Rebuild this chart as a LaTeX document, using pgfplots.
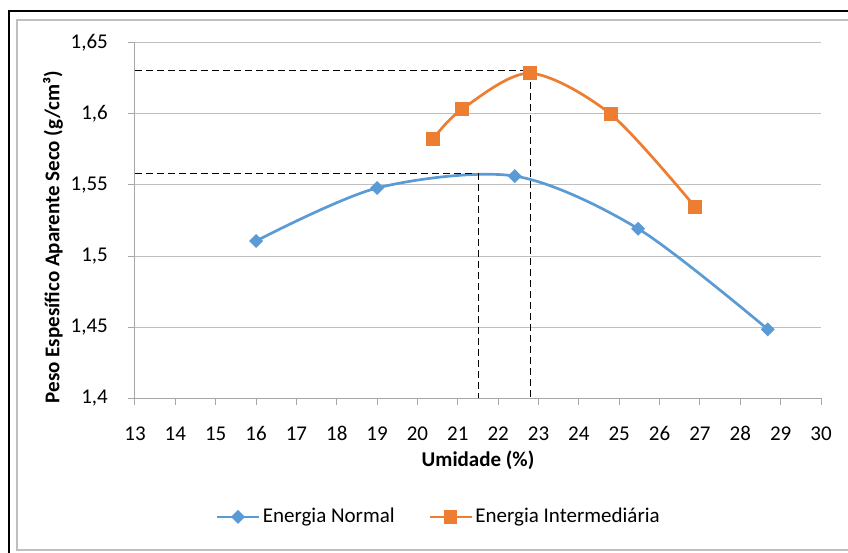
\documentclass[border=0pt]{standalone}
\usepackage{fontspec}
\setmainfont{Carlito}
\usepackage{pgfplots}
\pgfplotsset{compat=1.18}
\definecolor{cblue}{HTML}{5B9BD5}
\definecolor{corange}{HTML}{ED7D31}
\definecolor{cgrid}{HTML}{BFBFBF}
\definecolor{caxis}{HTML}{A6A6A6}
\begin{document}
\fontsize{21bp}{24bp}\selectfont
\begin{tikzpicture}
\useasboundingbox (-135bp,-155bp) rectangle (713bp,398bp);
% frames
\draw[black, line width=2bp] (-125.5bp,-156bp) -- (-125.5bp,387bp) -- (714bp,387bp);
\draw[cgrid, line width=1.5bp] (714bp,378bp) -- (-118bp,378bp) -- (-118bp,-152bp) -- (714bp,-152bp);
\begin{axis}[
  scale only axis,
  width=686bp, height=355bp,
  xmin=13, xmax=30, ymin=1.4, ymax=1.65,
  xtick={13,14,...,30},
  ytick={1.4,1.45,1.5,1.55,1.6,1.65},
  axis lines=left,
  axis line style={-, caxis, line width=1bp},
  tick align=outside,
  major tick length=7bp,
  tick style={caxis, line width=1bp},
  ymajorgrids,
  grid style={cgrid, line width=1bp},
  /pgf/number format/assume math mode=true,
  /pgf/number format/use comma,
  font=\fontsize{21bp}{24bp}\selectfont,
  xticklabel style={anchor=base, inner sep=0pt, yshift=-35.5bp},
  yticklabel style={anchor=east, inner sep=0pt, xshift=-20bp},
  every axis x label/.style={at={(rel axis cs:0.5,-0.1746)}, anchor=center, font=\fontsize{21bp}{24bp}\selectfont\bfseries},
  every axis y label/.style={at={(rel axis cs:-0.1195,0.4535)}, anchor=center, rotate=90, font=\fontsize{21bp}{24bp}\selectfont\bfseries},
  xlabel={Umidade (\%)},
  ylabel={Peso Espesífico Aparente Seco (g/cm³)},
  legend columns=2,
  legend style={at={(rel axis cs:0.443,-0.335)}, anchor=center, draw=none, fill=none,
    font=\fontsize{21bp}{24bp}\selectfont,
    /tikz/every even column/.append style={column sep=31bp},
    nodes={inner sep=2.5bp}},
  legend image code/.code={\draw[mark repeat=2,mark phase=2,#1] plot coordinates {(0bp,0bp) (21bp,0bp) (42bp,0bp)};},
]
\addplot[cblue, line width=2.7bp, smooth, tension=0.5, mark=square*, mark size=3.6bp, mark options={solid, rotate=45, fill=cblue, draw=cblue}]
  coordinates {(16,1.5106) (19,1.5479) (22.41,1.5563) (25.47,1.5192) (28.68,1.4484)};
\addlegendentry{Energia Normal}
\addplot[corange, line width=2.7bp, smooth, tension=0.5, mark=square*, mark size=5.5bp, mark options={solid, fill=corange, draw=corange}]
  coordinates {(20.39,1.5826) (21.10,1.6033) (22.78,1.6287) (24.79,1.5998) (26.88,1.5345)};
\addlegendentry{Energia Intermediária}
\addplot[black, line width=1bp, dash pattern=on 7bp off 4bp, forget plot]
  coordinates {(13,1.6303) (22.81,1.6303) (22.81,1.4)};
\addplot[black, line width=1bp, dash pattern=on 7bp off 4bp, forget plot]
  coordinates {(13,1.5582) (21.45,1.5582)};
\addplot[black, line width=1bp, dash pattern=on 7bp off 4bp, forget plot]
  coordinates {(21.52,1.5582) (21.52,1.4)};
\end{axis}
\end{tikzpicture}
\end{document}
